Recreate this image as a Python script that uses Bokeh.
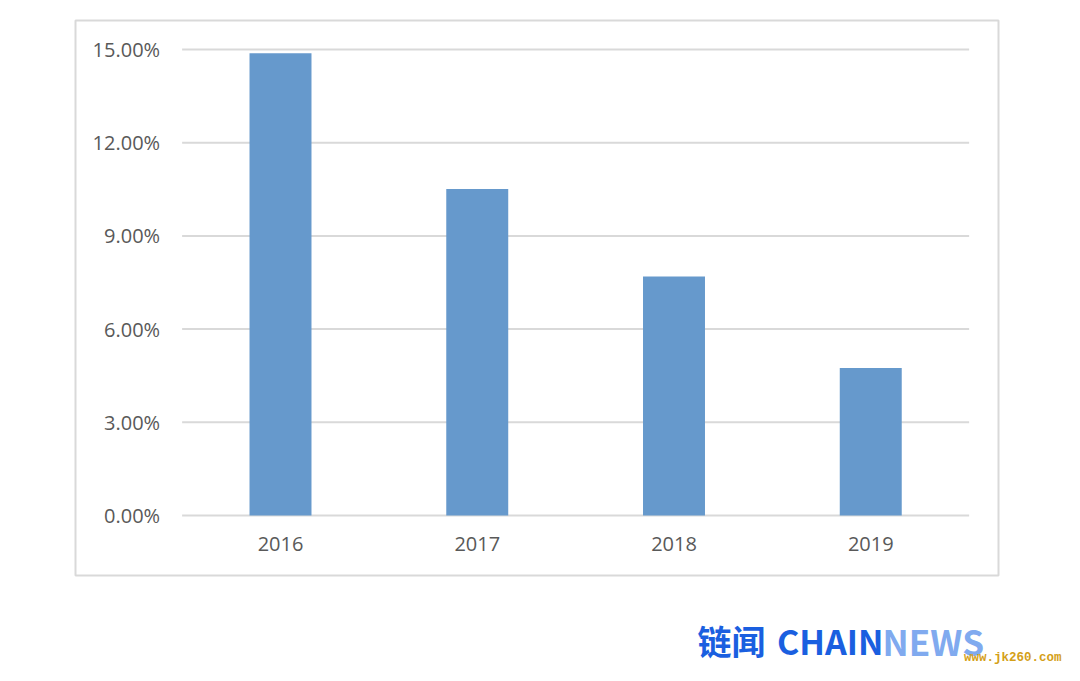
from bokeh.plotting import figure
from bokeh.models import Range1d, FixedTicker, NumeralTickFormatter, Label
from bokeh.embed import file_html
from bokeh.resources import INLINE

years = ["2016", "2017", "2018", "2019"]
rates = [0.1488, 0.1051, 0.0769, 0.0475]
y_ticks = [0.0, 0.03, 0.06, 0.09, 0.12, 0.15]
brand_cn = "链闻"
brand_a = "CHAIN"
brand_b = "NEWS"
site = "www.jk260.com"

W, H = 1064, 665
# pixel geometry of the canvas -> data coordinates
X0PX, XSTEP = 280.0, 196.75      # centre of first category, spacing
Y0PX, YSCALE = 515.0, 3106.7     # baseline pixel, pixels per unit


def dx(px):
    return (px - X0PX) / XSTEP


def dy(py):
    return (Y0PX - py) / YSCALE


xi = list(range(len(years)))

p = figure(width=W, height=H, output_backend="svg", toolbar_location=None,
           x_range=Range1d(dx(0), dx(W)), y_range=Range1d(dy(H), dy(0)),
           min_border=0)
p.outline_line_color = None
p.background_fill_color = "white"
p.border_fill_color = "white"
p.xgrid.visible = False
p.ygrid.visible = False

# outer chart border
p.quad(left=dx(75), right=dx(998), bottom=dy(575), top=dy(20),
       fill_color=None, line_color="#d9d9d9", line_width=2)

# horizontal gridlines across the category span
p.segment(x0=[-0.5] * len(y_ticks), x1=[len(years) - 0.5] * len(y_ticks),
          y0=y_ticks, y1=y_ticks, line_color="#d9d9d9", line_width=2)

p.vbar(x=xi, top=rates, bottom=0, width=0.315, fill_color="#6699cc", line_color=None)

p.yaxis.fixed_location = -0.5
p.xaxis.fixed_location = 0
p.yaxis.ticker = FixedTicker(ticks=y_ticks)
p.yaxis.formatter = NumeralTickFormatter(format="0.00%")
p.xaxis.ticker = FixedTicker(ticks=xi)
p.xaxis.major_label_overrides = {i: y for i, y in zip(xi, years)}
for ax in (p.xaxis, p.yaxis):
    ax.axis_line_color = None
    ax.major_tick_line_color = None
    ax.minor_tick_line_color = None
    ax.major_tick_out = 0
    ax.major_tick_in = 0
    ax.minor_tick_out = 0
    ax.major_label_text_font = "Open Sans"
    ax.major_label_text_font_size = "20px"
    ax.major_label_text_color = "#595959"
p.yaxis.major_label_standoff = 22
p.xaxis.major_label_standoff = 21

# watermark
p.add_layout(Label(x=dx(697), y=dy(640), text=brand_cn, text_font="Noto Sans CJK SC",
                   text_font_style="bold", text_font_size="34px", text_color="#1a5fe0",
                   text_baseline="alphabetic", text_align="left"))
p.add_layout(Label(x=dx(883), y=dy(640), text=brand_a, text_font="Noto Sans CJK SC",
                   text_font_style="bold", text_font_size="34px", text_color="#1a5fe0",
                   text_baseline="alphabetic", text_align="right"))
p.add_layout(Label(x=dx(882), y=dy(640), text=brand_b, text_font="Noto Sans CJK SC",
                   text_font_style="bold", text_font_size="35px", text_color="#80aaef",
                   text_baseline="alphabetic", text_align="left"))
p.add_layout(Label(x=dx(1061), y=dy(657), text=site, text_font="Liberation Mono",
                   text_font_style="bold", text_font_size="12.5px", text_color="#d4a017",
                   text_baseline="alphabetic", text_align="right"))

open("out.html", "w").write(file_html(p, INLINE))
